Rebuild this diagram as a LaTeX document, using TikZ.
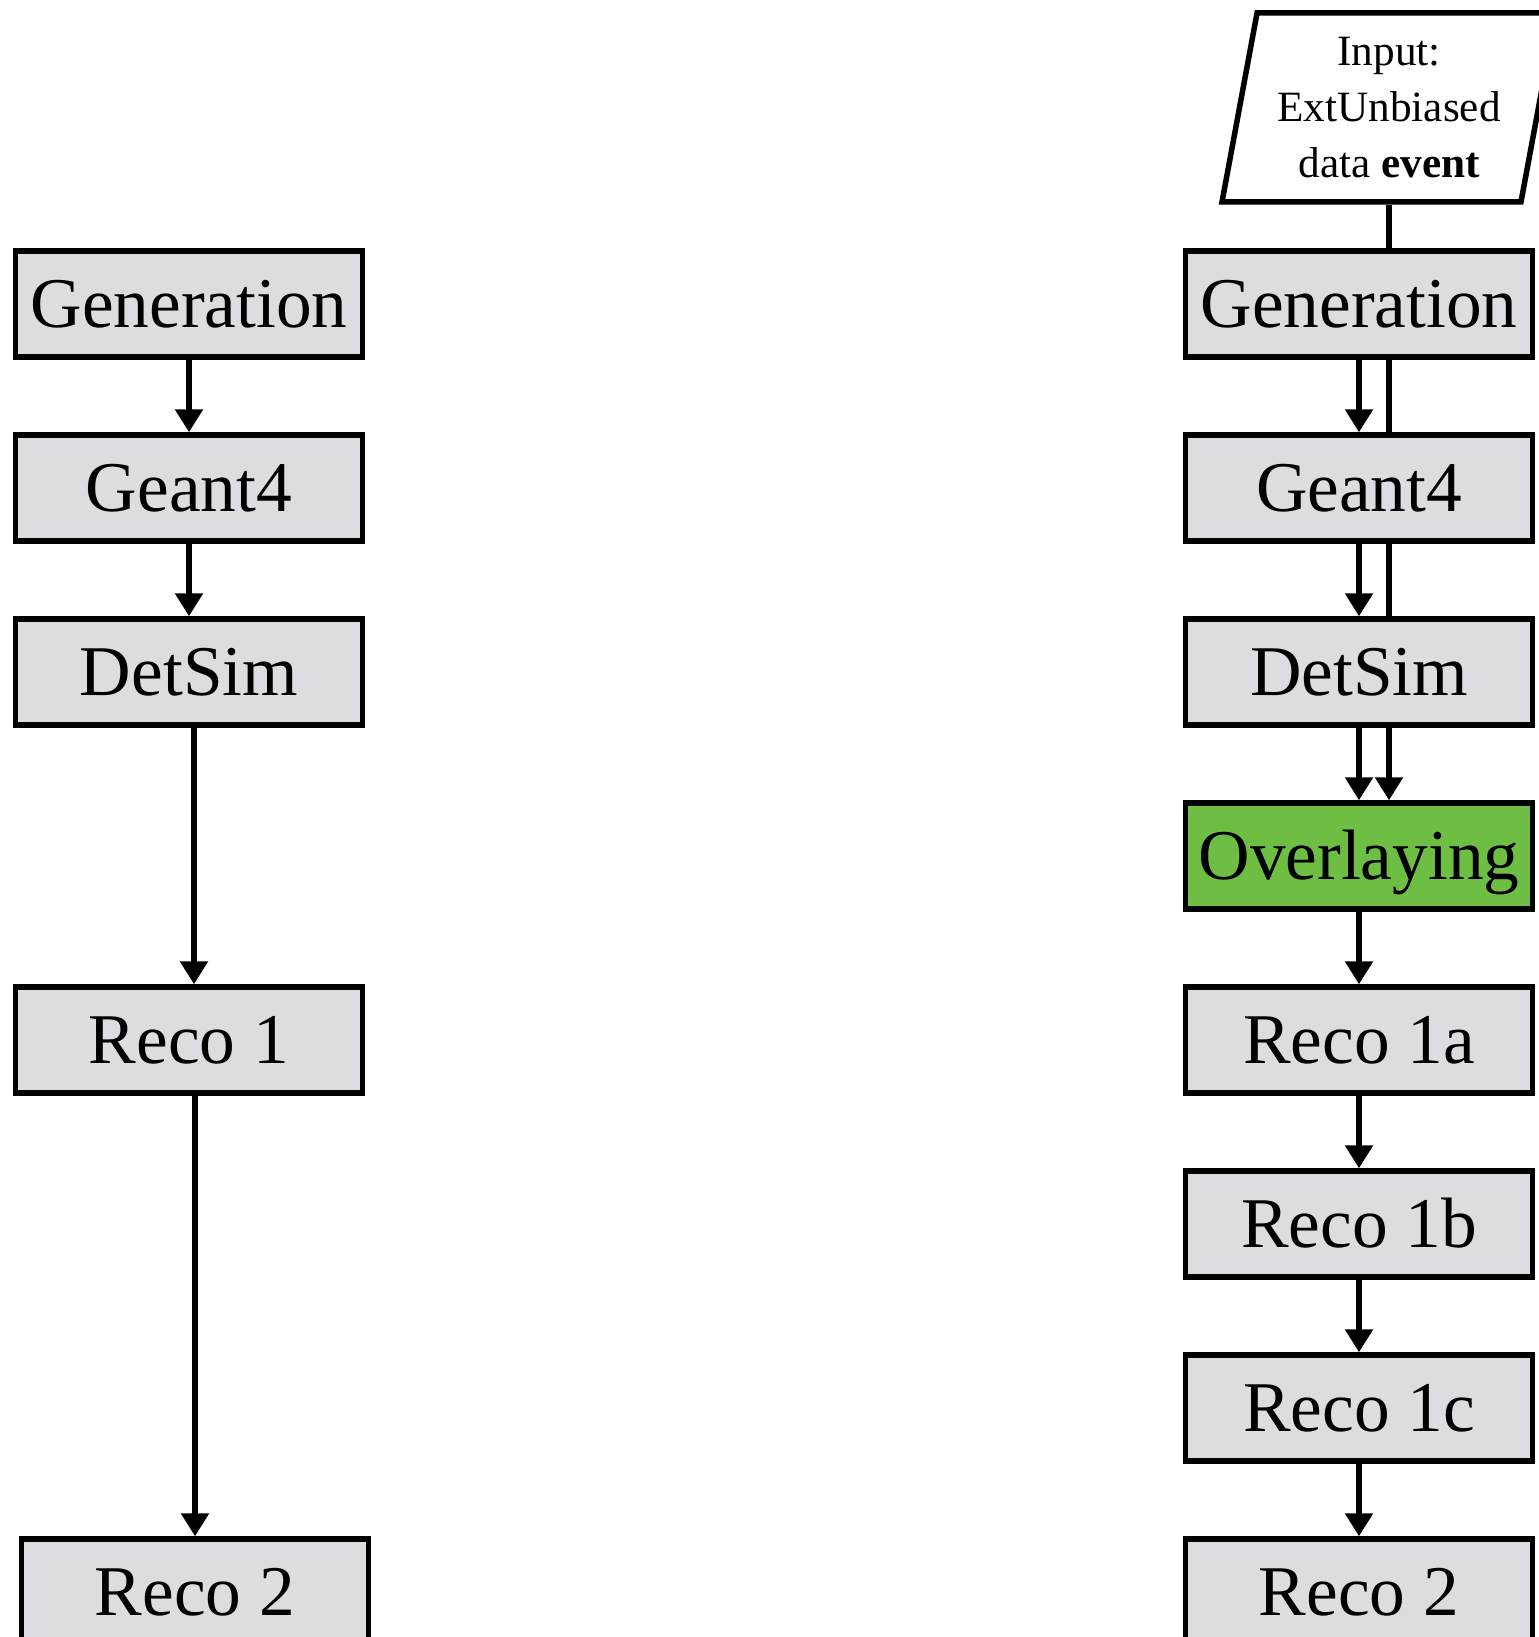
\documentclass[tikz,border=0pt]{standalone}
\usepackage{fontspec}
\setmainfont{Liberation Serif}
\usetikzlibrary{positioning,shapes.geometric,arrows.meta}
\definecolor{boxgray}{HTML}{DCDDE0}
\definecolor{overgreen}{HTML}{6EBE44}
\begin{document}
\begin{tikzpicture}
        [
            node distance = 1.45cm,
            box/.style = {rectangle, draw, line width = 0.11cm, fill = boxgray,
                minimum width = 6.94cm, minimum height = 2.12cm, inner sep = 0pt,
                font = \fontsize{40.6}{48}\selectfont, text height = 26.9pt, text depth = 0pt},
            greenbox/.style = {box, fill = overgreen},
            inputbox/.style = {trapezium, trapezium left angle = 76, trapezium right angle = 104,
                trapezium stretches body, draw, line width = 0.11cm, fill = white,
                minimum width = 6.68cm, minimum height = 3.78cm, inner sep = 0pt,
                align = center, font = \fontsize{24.6}{31.8}\selectfont},
            arr/.style = {line width = 0.11cm, -{Triangle[width = 0.54cm, length = 0.46cm]}},
            link/.style = {line width = 0.11cm}
        ]
            \useasboundingbox (0,0) rectangle (30.78,-32.74);
            \clip (0,0) rectangle (30.78,-32.74);
            % overlay chain
            \node [inputbox] (input) at (27.78,-2.15) {Input:\\ExtUnbiased\\data \textbf{event}};
            \node [box] (gen2) at (27.18,-6.08) {Generation};
            \node [box, below = of gen2] (geant2) {Geant4};
            \node [box, below = of geant2] (detsim2) {DetSim};
            \node [greenbox, below = of detsim2] (overlay) {Overlaying};
            \node [box, below = of overlay] (reco1a) {Reco 1a};
            \node [box, below = of reco1a] (reco1b) {Reco 1b};
            \node [box, below = of reco1b] (reco1c) {Reco 1c};
            \node [box, below = of reco1c] (reco2r) {Reco 2};
            % plain chain
            \node [box] (gen1) at (3.78,-6.08) {Generation};
            \node [box, below = of gen1] (geant1) {Geant4};
            \node [box, below = of geant1] (detsim1) {DetSim};
            \node [box] (reco1) at (gen1 |- reco1a) {Reco 1};
            \node [box, xshift = 1.2mm] (reco2l) at (gen1 |- reco2r) {Reco 2};
            \draw [arr] (gen1) -- (geant1);
            \draw [arr] (geant1) -- (detsim1);
            \draw [arr] ([xshift = 1mm]detsim1.south) -- ([xshift = 1mm]reco1.north);
            \draw [arr] ([xshift = 1.2mm]reco1.south) -- (reco2l.north);
            \draw [arr] (gen2) -- (geant2);
            \draw [arr] (geant2) -- (detsim2);
            \draw [arr] (detsim2) -- (overlay);
            \draw [arr] (overlay) -- (reco1a);
            \draw [arr] (reco1a) -- (reco1b);
            \draw [arr] (reco1b) -- (reco1c);
            \draw [arr] (reco1c) -- (reco2r);
            % data event line
            \draw [link] (input.south) -- (input.south |- gen2.north);
            \draw [link] (input.south |- gen2.south) -- (input.south |- geant2.north);
            \draw [link] (input.south |- geant2.south) -- (input.south |- detsim2.north);
            \draw [arr] (input.south |- detsim2.south) -- (input.south |- overlay.north);
        \end{tikzpicture}
\end{document}
